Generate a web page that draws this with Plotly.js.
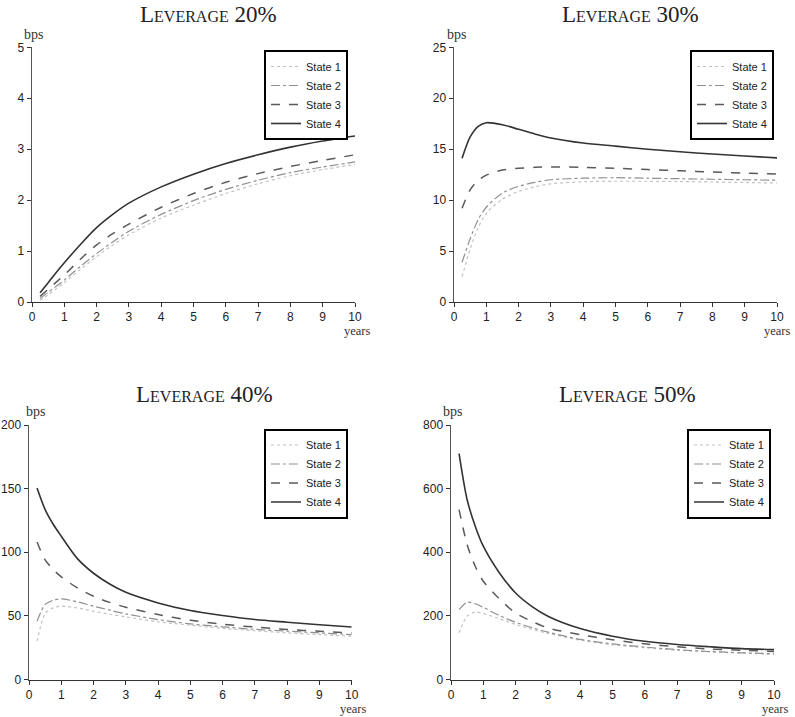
<!DOCTYPE html>
<html>
<head>
<meta charset="utf-8">
<script src="https://cdn.plot.ly/plotly-3.0.1.min.js"></script>
<style>html,body{margin:0;padding:0;background:#fff;}#chart{width:795px;height:717px;}</style>
</head>
<body>
<div id="chart"></div>
<script>
// Maturities (years)
const years = [0.25, 0.5, 0.75, 1, 1.5, 2, 2.5, 3, 4, 5, 6, 7, 8, 9, 10];

// Panel titles
const panelTitles = ["Leverage 20%", "Leverage 30%", "Leverage 40%", "Leverage 50%"];
const stateNames = ["State 1", "State 2", "State 3", "State 4"];

// Leverage 20% (bps)
const lev20_s1 = [0.03, 0.14, 0.26, 0.38, 0.64, 0.89, 1.12, 1.32, 1.65, 1.90, 2.13, 2.32, 2.48, 2.60, 2.70];
const lev20_s2 = [0.07, 0.19, 0.31, 0.43, 0.70, 0.95, 1.18, 1.39, 1.72, 1.99, 2.21, 2.39, 2.54, 2.65, 2.75];
const lev20_s3 = [0.11, 0.25, 0.39, 0.53, 0.84, 1.12, 1.34, 1.53, 1.86, 2.13, 2.35, 2.52, 2.66, 2.78, 2.89];
const lev20_s4 = [0.18, 0.38, 0.58, 0.77, 1.13, 1.46, 1.72, 1.94, 2.26, 2.51, 2.72, 2.89, 3.04, 3.16, 3.26];

// Leverage 30% (bps)
const lev30_s1 = [2.5, 5.2, 7.3, 8.7, 10.1, 10.85, 11.3, 11.6, 11.8, 11.85, 11.85, 11.82, 11.78, 11.73, 11.68];
const lev30_s2 = [3.9, 6.2, 8.1, 9.3, 10.7, 11.35, 11.75, 12.0, 12.15, 12.2, 12.15, 12.1, 12.05, 12.0, 11.95];
const lev30_s3 = [9.2, 11.0, 11.95, 12.45, 12.95, 13.12, 13.22, 13.25, 13.22, 13.12, 13.0, 12.88, 12.76, 12.65, 12.55];
const lev30_s4 = [14.1, 16.2, 17.25, 17.6, 17.4, 16.95, 16.5, 16.1, 15.6, 15.3, 15.0, 14.75, 14.52, 14.33, 14.15];

// Leverage 40% (bps)
const lev40_s1 = [30.1, 51.8, 56.3, 57.6, 56.3, 53.7, 51.3, 49.2, 45.3, 42.7, 40.2, 38.3, 36.7, 35.3, 34.0];
const lev40_s2 = [45.8, 59.0, 62.3, 63.4, 61.0, 57.6, 54.5, 51.6, 47.1, 43.7, 41.4, 39.4, 38.0, 36.6, 35.3];
const lev40_s3 = [108, 94, 86.4, 80.6, 72.0, 65.4, 60.6, 56.8, 51.0, 46.6, 43.4, 41.2, 39.3, 37.9, 36.6];
const lev40_s4 = [150.5, 133.5, 122, 112.6, 95.0, 83.5, 75.0, 68.5, 60.2, 54.2, 50.3, 47.1, 45.0, 43.0, 41.3];

// Leverage 50% (bps)
const lev50_s1 = [147, 199, 212, 207, 191, 173, 158, 145, 124, 109, 100, 92, 87, 83, 79];
const lev50_s2 = [220, 243, 238, 227, 201, 180, 163, 149, 126, 112, 102, 94, 88, 84, 81];
const lev50_s3 = [534, 424, 356, 309, 253, 209, 183, 162, 141, 125, 112, 103, 96, 92, 88];
const lev50_s4 = [710, 565, 482, 419, 335, 272, 230, 199, 160, 136, 120, 110, 103, 97, 94];

// Axis tick values
const xTicks = [0, 1, 2, 3, 4, 5, 6, 7, 8, 9, 10];
const yTicks20 = [0, 1, 2, 3, 4, 5];
const yTicks30 = [0, 5, 10, 15, 20, 25];
const yTicks40 = [0, 50, 100, 150, 200];
const yTicks50 = [0, 200, 400, 600, 800];

const W = 795, H = 717;
const panels = [
  {series: [lev20_s1, lev20_s2, lev20_s3, lev20_s4], yt: yTicks20, ymax: 5,   px: [32, 355],  py: [47.3, 302],   leg: [348, 50],  title: [208, 14],  bps: [33, 34],  yrs: [357, 331]},
  {series: [lev30_s1, lev30_s2, lev30_s3, lev30_s4], yt: yTicks30, ymax: 25,  px: [454, 777], py: [47.3, 302],   leg: [774, 50],  title: [630, 14],  bps: [456, 34], yrs: [777, 331]},
  {series: [lev40_s1, lev40_s2, lev40_s3, lev40_s4], yt: yTicks40, ymax: 200, px: [29, 351.7], py: [425, 679.5], leg: [348, 428.5], title: [204, 394], bps: [35, 412], yrs: [353, 717]},
  {series: [lev50_s1, lev50_s2, lev50_s3, lev50_s4], yt: yTicks50, ymax: 800, px: [451, 774], py: [425, 679.5], leg: [771, 428.5], title: [627, 394], bps: [452, 412], yrs: [775, 717]}
];

const lineStyles = [
  {color: '#c2c2c2', dash: 'dot', width: 1.2},
  {color: '#909090', dash: 'dashdot', width: 1.2},
  {color: '#5a5a5a', dash: 'dash', width: 1.5},
  {color: '#333333', dash: 'solid', width: 1.6}
];

const data = [];
const layout = {
  width: W, height: H,
  margin: {l: 0, r: 0, t: 0, b: 0},
  paper_bgcolor: '#fff', plot_bgcolor: '#fff',
  font: {family: 'Liberation Sans, Arial, sans-serif', size: 12, color: '#222'},
  annotations: []
};

panels.forEach((p, i) => {
  const k = i === 0 ? '' : String(i + 1);
  const xa = 'xaxis' + k, ya = 'yaxis' + k;
  const legName = i === 0 ? 'legend' : 'legend' + (i + 1);
  p.series.forEach((ys, j) => {
    data.push({
      x: years, y: ys, type: 'scatter', mode: 'lines',
      name: stateNames[j],
      xaxis: 'x' + k, yaxis: 'y' + k,
      legend: legName,
      line: Object.assign({shape: 'spline', smoothing: 0.8}, lineStyles[j])
    });
  });
  layout[xa] = {
    domain: [p.px[0] / W, p.px[1] / W], anchor: 'y' + k,
    range: [0, 10], tickvals: xTicks, ticktext: xTicks.map(String),
    showgrid: false, zeroline: false, showline: true, linecolor: '#333', linewidth: 1,
    ticks: 'outside', ticklen: 4, tickcolor: '#333', tickfont: {size: 12, color: '#222'}
  };
  layout[ya] = {
    domain: [1 - p.py[1] / H, 1 - p.py[0] / H], anchor: 'x' + k,
    range: [0, p.ymax], tickvals: p.yt, ticktext: p.yt.map(String),
    showgrid: false, zeroline: false, showline: true, linecolor: '#555', linewidth: 1.5,
    ticks: 'outside', ticklen: 4, tickcolor: '#333', tickfont: {size: 12, color: '#222'}
  };
  layout[legName] = {
    x: p.leg[0] / W, y: 1 - p.leg[1] / H, xanchor: 'right', yanchor: 'top',
    xref: 'paper', yref: 'paper',
    bgcolor: '#fff', bordercolor: '#000', borderwidth: 2,
    font: {size: 11, color: '#222'}, itemwidth: 30, tracegroupgap: 0
  };
  layout.annotations.push({
    text: panelTitles[i], xref: 'paper', yref: 'paper',
    x: p.title[0] / W, y: 1 - p.title[1] / H, xanchor: 'center', yanchor: 'middle',
    showarrow: false, font: {family: 'Liberation Serif, DejaVu Serif, serif', size: 23, color: '#222', variant: 'small-caps'}
  });
  layout.annotations.push({
    text: 'bps', xref: 'paper', yref: 'paper',
    x: p.bps[0] / W, y: 1 - p.bps[1] / H, xanchor: 'center', yanchor: 'middle',
    showarrow: false, font: {family: 'Liberation Serif, DejaVu Serif, serif', size: 14, color: '#333'}
  });
  const bottomRow = i >= 2;
  layout.annotations.push({
    text: 'years', xref: 'paper', yref: 'paper',
    x: p.yrs[0] / W, y: 1 - p.yrs[1] / H, xanchor: 'center', yanchor: bottomRow ? 'bottom' : 'middle',
    borderpad: 0,
    showarrow: false, font: {family: 'Liberation Serif, DejaVu Serif, serif', size: 12.5, color: '#333'}
  });
});

Plotly.newPlot('chart', data, layout, {displayModeBar: false, staticPlot: true});
</script>
</body>
</html>
